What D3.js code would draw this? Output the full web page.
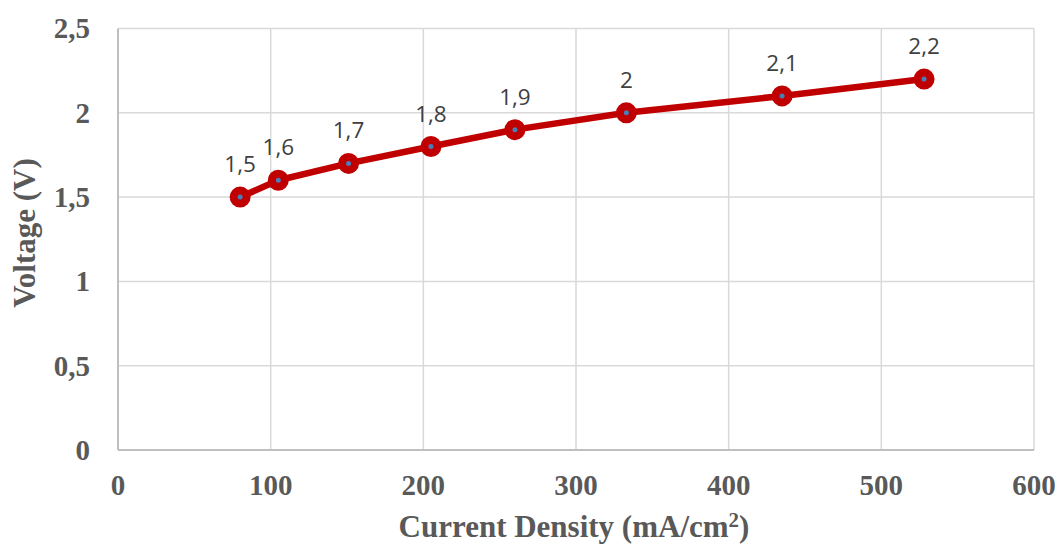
<!DOCTYPE html>
<html>
<head>
<meta charset="utf-8">
<script src="https://cdn.jsdelivr.net/npm/d3@7"></script>
<style>
  body { margin: 0; background: #fff; }
  svg { display: block; }
</style>
</head>
<body>
<svg id="chart" width="1063" height="548"></svg>
<script>
// current density (mA/cm2) and voltage (V)
var density = [80, 105, 151, 205, 260, 333, 435, 528];
var voltage = [1.5, 1.6, 1.7, 1.8, 1.9, 2.0, 2.1, 2.2];
var xTicks = [0, 100, 200, 300, 400, 500, 600];
var yTicks = [0, 0.5, 1, 1.5, 2, 2.5];

var svg = d3.select('#chart');
var m = { left: 118, top: 28.5, right: 1034, bottom: 450 };

var x = d3.scaleLinear().domain([0, 600]).range([m.left, m.right]);
var y = d3.scaleLinear().domain([0, 2.5]).range([m.bottom, m.top]);
var fmt = d => String(d).replace('.', ',');

// grid
svg.append('g').selectAll('line').data(xTicks.slice(1)).enter().append('line')
    .attr('x1', d => x(d)).attr('x2', d => x(d))
    .attr('y1', m.top).attr('y2', m.bottom)
    .attr('stroke', '#d9d9d9').attr('stroke-width', 1.5);
svg.append('g').selectAll('line').data(yTicks.slice(1)).enter().append('line')
    .attr('x1', m.left).attr('x2', m.right)
    .attr('y1', d => y(d)).attr('y2', d => y(d))
    .attr('stroke', '#d9d9d9').attr('stroke-width', 1.5);

// axes lines
svg.append('line').attr('x1', m.left).attr('x2', m.right)
    .attr('y1', m.bottom).attr('y2', m.bottom)
    .attr('stroke', '#bfbfbf').attr('stroke-width', 2);
svg.append('line').attr('x1', m.left).attr('x2', m.left)
    .attr('y1', m.top).attr('y2', m.bottom)
    .attr('stroke', '#bfbfbf').attr('stroke-width', 2);

var tickFont = { 'font-family': '"Liberation Serif", "Times New Roman", serif', 'font-weight': 'bold', 'font-size': '29px', 'fill': '#595959' };
function style(sel, o) { for (var k in o) sel.attr(k, o[k]); return sel; }

// tick labels
style(svg.append('g').selectAll('text').data(xTicks).enter().append('text'), tickFont)
    .attr('x', d => x(d)).attr('y', 495)
    .attr('text-anchor', 'middle')
    .text(fmt);
style(svg.append('g').selectAll('text').data(yTicks).enter().append('text'), tickFont)
    .attr('x', 90).attr('y', d => y(d)).attr('dy', '0.34em')
    .attr('text-anchor', 'end')
    .text(fmt);

// axis titles
style(svg.append('text'), tickFont)
    .attr('font-size', '31px')
    .attr('transform', 'translate(35,233) rotate(-90)')
    .attr('text-anchor', 'middle')
    .text('Voltage (V)');
var xt = style(svg.append('text'), tickFont)
    .attr('font-size', '31px')
    .attr('x', 574).attr('y', 537)
    .attr('text-anchor', 'middle');
xt.append('tspan').text('Current Density (mA/cm');
xt.append('tspan').attr('font-size', '21px').attr('dy', '-10').text('2');
xt.append('tspan').attr('dy', '10').text(')');

// series
var pts = density.map((d, i) => ({ x: d, y: voltage[i] }));
svg.append('path').datum(pts)
    .attr('fill', 'none').attr('stroke', '#c00000').attr('stroke-width', 6.5)
    .attr('stroke-linejoin', 'round')
    .attr('d', d3.line().x(d => x(d.x)).y(d => y(d.y)));

svg.append('g').selectAll('circle').data(pts).enter().append('circle')
    .attr('cx', d => x(d.x)).attr('cy', d => y(d.y)).attr('r', 6.5)
    .attr('fill', '#4a7ebb').attr('stroke', '#c00000').attr('stroke-width', 8);

// data labels
svg.append('g').selectAll('text').data(pts).enter().append('text')
    .attr('x', d => x(d.x)).attr('y', d => y(d.y) - 25)
    .attr('text-anchor', 'middle')
    .attr('font-family', '"Open Sans", sans-serif').attr('font-size', '22.5px')
    .attr('fill', '#404040')
    .text(d => fmt(d.y));
</script>
</body>
</html>
